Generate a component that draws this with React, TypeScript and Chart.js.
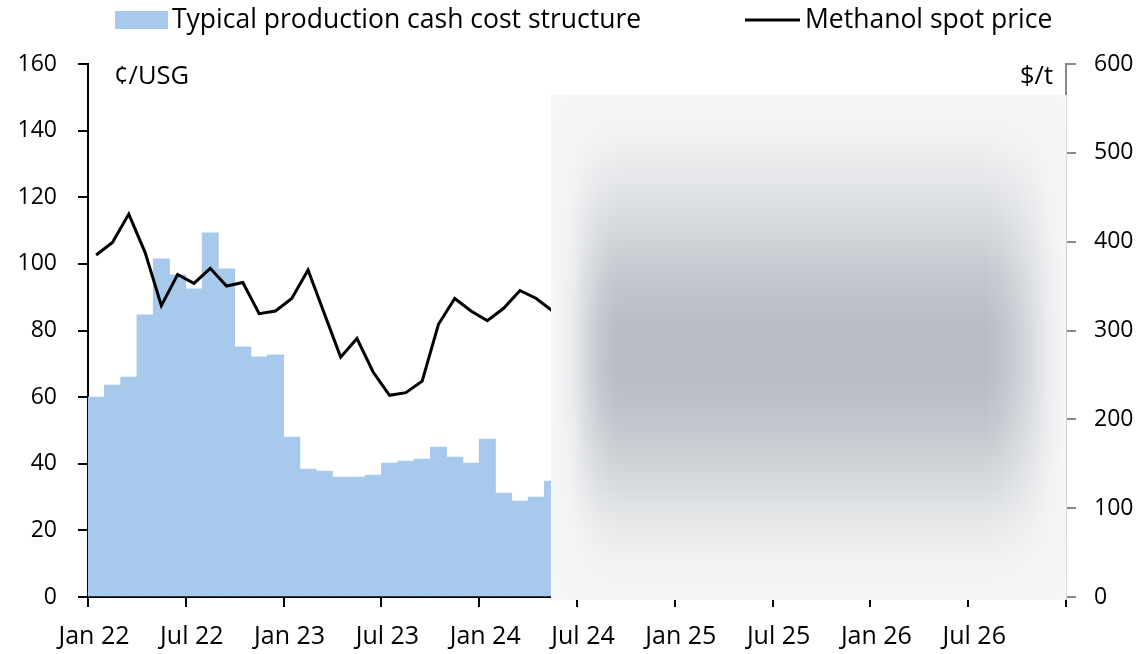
import React, { useEffect, useRef } from 'react';
import { Chart, registerables } from 'chart.js';

Chart.register(...registerables);

// ---- Data ----
const MONTHS = [
  'Jan 22', 'Feb 22', 'Mar 22', 'Apr 22', 'May 22', 'Jun 22', 'Jul 22', 'Aug 22', 'Sep 22', 'Oct 22', 'Nov 22', 'Dec 22',
  'Jan 23', 'Feb 23', 'Mar 23', 'Apr 23', 'May 23', 'Jun 23', 'Jul 23', 'Aug 23', 'Sep 23', 'Oct 23', 'Nov 23', 'Dec 23',
  'Jan 24', 'Feb 24', 'Mar 24', 'Apr 24', 'May 24',
];
// Typical production cash cost structure (¢/USG, left axis)
const COST = [
  60.0, 63.6, 66.0, 84.7, 101.5, 96.7, 92.5, 109.3, 98.5, 75.1, 72.1, 72.7,
  48.0, 38.4, 37.8, 36.0, 36.0, 36.6, 40.2, 40.8, 41.4, 45.0, 42.0, 40.2,
  47.4, 31.2, 28.8, 30.0, 34.8,
];
// Methanol spot price ($/t, right axis)
const PRICE = [
  385, 399, 431, 388, 328, 363, 353, 370, 350, 354, 319, 322,
  336, 368, 319, 270, 291, 253, 227, 230, 243, 307, 336, 322,
  311, 325, 345, 336, 322,
];
const X_TICK_LABELS = ['Jan 22', 'Jul 22', 'Jan 23', 'Jul 23', 'Jan 24', 'Jul 24', 'Jan 25', 'Jul 25', 'Jan 26', 'Jul 26', ''];
const SERIES_LABELS = ['Typical production cash cost structure', 'Methanol spot price'];
const LEFT_UNIT = '¢/USG';
const RIGHT_UNIT = '$/t';

// ---- Style ----
const FONT = "'Open Sans', 'Noto Sans', sans-serif";
const Y_FONT_SIZE = 23;
const X_FONT_SIZE = 25;
const LEGEND_FONT_SIZE = 26.5;
const UNIT_FONT_SIZE = 25.5;
const BAR_COLOR = '#a7c9eb';
const RIGHT_AXIS_COLOR = '#8a8a8a';

const legendPlugin = {
  id: 'customLegend',
  afterDraw(chart: any) {
    const ctx = chart.ctx;
    ctx.save();
    ctx.font = `${LEGEND_FONT_SIZE}px ${FONT}`;
    ctx.textBaseline = 'middle';
    ctx.textAlign = 'left';
    const y = 20;
    ctx.fillStyle = BAR_COLOR;
    ctx.fillRect(115, y - 9, 53, 18);
    ctx.fillStyle = '#000';
    ctx.fillText(SERIES_LABELS[0], 172, y);
    ctx.strokeStyle = '#000';
    ctx.lineWidth = 3;
    ctx.beginPath();
    ctx.moveTo(745, y);
    ctx.lineTo(800, y);
    ctx.stroke();
    ctx.fillText(SERIES_LABELS[1], 805, y);
    ctx.font = `${UNIT_FONT_SIZE}px ${FONT}`;
    ctx.fillText(LEFT_UNIT, 114, 77);
    ctx.textAlign = 'right';
    ctx.fillText(RIGHT_UNIT, 1053, 77);
    ctx.restore();
  },
};

const overlayPlugin = {
  id: 'blurOverlay',
  afterDraw(chart: any) {
    const { ctx, chartArea } = chart;
    const x0 = 551;
    const x1 = chartArea.right + 0.5;
    const y0 = 95;
    const y1 = chartArea.bottom + 3;
    const w = x1 - x0;
    const h = y1 - y0;
    ctx.save();
    const vg = ctx.createLinearGradient(0, y0, 0, y1);
    vg.addColorStop(0, '#f5f6f7');
    vg.addColorStop(0.09, '#f0f1f2');
    vg.addColorStop(0.17, '#e4e6e9');
    vg.addColorStop(0.27, '#d3d6da');
    vg.addColorStop(0.37, '#c2c6cd');
    vg.addColorStop(0.46, '#b8bdc5');
    vg.addColorStop(0.55, '#b7bcc5');
    vg.addColorStop(0.64, '#c0c4cb');
    vg.addColorStop(0.75, '#d3d6da');
    vg.addColorStop(0.84, '#e5e7e9');
    vg.addColorStop(0.92, '#f0f1f2');
    vg.addColorStop(1, '#f5f6f7');
    ctx.fillStyle = vg;
    ctx.fillRect(x0, y0, w, h);
    const hg = ctx.createLinearGradient(x0, 0, x1, 0);
    const base = (a: number) => `rgba(245,246,247,${a})`;
    hg.addColorStop(0, base(1));
    hg.addColorStop(0.039, base(0.85));
    hg.addColorStop(0.066, base(0.5));
    hg.addColorStop(0.095, base(0.2));
    hg.addColorStop(0.118, base(0.05));
    hg.addColorStop(0.14, base(0));
    hg.addColorStop(0.84, base(0));
    hg.addColorStop(0.87, base(0.1));
    hg.addColorStop(0.908, base(0.35));
    hg.addColorStop(0.934, base(0.55));
    hg.addColorStop(0.967, base(0.85));
    hg.addColorStop(1, base(1));
    ctx.fillStyle = hg;
    ctx.fillRect(x0, y0, w, h);
    ctx.restore();
  },
};

export default function App() {
  const canvasRef = useRef<HTMLCanvasElement | null>(null);

  useEffect(() => {
    if (!canvasRef.current) return;
    const yFont = { family: FONT, size: Y_FONT_SIZE };
    const xFont = { family: FONT, size: X_FONT_SIZE };
    const chart = new Chart(canvasRef.current, {
      type: 'bar',
      data: {
        datasets: [
          {
            type: 'line',
            label: SERIES_LABELS[1],
            data: MONTHS.map((_, i) => ({ x: i + 0.5, y: PRICE[i] })),
            borderColor: '#000',
            backgroundColor: '#000',
            borderWidth: 3,
            pointRadius: 0,
            tension: 0,
            yAxisID: 'y2',
            order: 1,
          } as any,
          {
            type: 'bar',
            label: SERIES_LABELS[0],
            data: MONTHS.map((_, i) => ({ x: i + 0.5, y: COST[i] })),
            backgroundColor: BAR_COLOR,
            borderWidth: 0,
            barPercentage: 1,
            categoryPercentage: 1,
            yAxisID: 'y',
            order: 2,
          } as any,
        ],
      },
      options: {
        animation: false,
        responsive: true,
        maintainAspectRatio: false,
        layout: { padding: { top: 64, left: 0, right: 0, bottom: 0 } },
        plugins: {
          legend: { display: false },
          tooltip: { enabled: false },
        },
        scales: {
          x: {
            type: 'linear',
            min: 0,
            max: 60,
            offset: false,
            afterFit: (s: any) => { s.height = 57; },
            ticks: {
              stepSize: 6,
              autoSkip: false,
              maxRotation: 0,
              font: xFont,
              color: '#000',
              padding: 15,
              labelOffset: 6,
              callback: (v: any) => X_TICK_LABELS[Math.round(Number(v) / 6)] ?? '',
            },
            grid: {
              offset: false,
              drawOnChartArea: false,
              drawTicks: true,
              tickLength: 10,
              tickWidth: 2,
              lineWidth: 2,
              color: '#000',
              tickColor: '#000',
            },
            border: { display: true, color: '#000', width: 2 },
          },
          y: {
            type: 'linear',
            position: 'left',
            min: 0,
            max: 160,
            afterFit: (s: any) => { s.width = 88; },
            ticks: { stepSize: 20, font: yFont, color: '#000', padding: 21 },
            grid: {
              drawOnChartArea: false,
              drawTicks: true,
              tickLength: 10,
              tickWidth: 2,
              lineWidth: 2,
              color: '#000',
              tickColor: '#000',
            },
            border: { display: true, color: '#000', width: 2 },
          },
          y2: {
            type: 'linear',
            position: 'right',
            min: 0,
            max: 600,
            afterFit: (s: any) => { s.width = 77; },
            ticks: { stepSize: 100, font: yFont, color: '#000', padding: 18 },
            grid: {
              drawOnChartArea: false,
              drawTicks: true,
              tickLength: 10,
              tickWidth: 2,
              lineWidth: 2,
              color: RIGHT_AXIS_COLOR,
              tickColor: RIGHT_AXIS_COLOR,
            },
            border: { display: true, color: RIGHT_AXIS_COLOR, width: 2 },
          },
        },
      } as any,
      plugins: [legendPlugin, overlayPlugin],
    });
    return () => chart.destroy();
  }, []);

  return (
    <div style={{ position: 'fixed', left: 0, top: 0, width: 1143, height: 654 }}>
      <canvas ref={canvasRef} />
    </div>
  );
}
